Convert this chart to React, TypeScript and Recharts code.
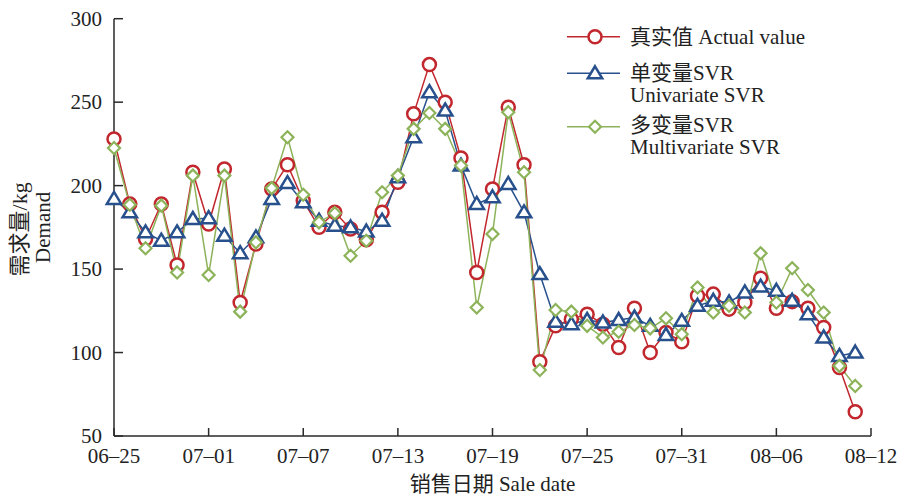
import React from "react";
import { LineChart, Line, XAxis, YAxis, Legend } from "recharts";

// sale dates, 06-25 .. 08-12 (the last one only carries the axis tick)
const dates = [
  "06–25", "06–26", "06–27", "06–28", "06–29", "06–30",
  "07–01", "07–02", "07–03", "07–04", "07–05", "07–06", "07–07", "07–08",
  "07–09", "07–10", "07–11", "07–12", "07–13", "07–14", "07–15", "07–16",
  "07–17", "07–18", "07–19", "07–20", "07–21", "07–22", "07–23", "07–24",
  "07–25", "07–26", "07–27", "07–28", "07–29", "07–30", "07–31",
  "08–01", "08–02", "08–03", "08–04", "08–05", "08–06", "08–07", "08–08",
  "08–09", "08–10", "08–11", "08–12",
];

const actual = [
  228, 189, 168, 189, 152.5, 208, 177, 210, 130, 165, 198, 212.5, 191, 175,
  184, 174, 167.5, 184, 202, 243, 272.5, 250, 216.5, 148, 198, 247, 212.5,
  94.5, 116, 120, 123, 117, 103, 126.5, 100, 112, 106.5, 134, 135, 126, 130,
  144.5, 126.5, 130.5, 126.5, 115, 91, 64.5,
];

const univariate = [
  192, 184, 172, 167, 172, 180, 180.5, 170, 159.5, 169, 192, 201.5, 190, 179,
  176, 175, 172.5, 179, 205, 229, 256, 245, 212, 189, 193, 201, 184, 147,
  118.5, 117, 119.5, 118, 119.5, 121, 116, 110.5, 119, 128, 131, 130, 136,
  139.5, 137, 131, 123, 109, 98, 100,
];

const multivariate = [
  222.5, 188.5, 162.5, 188, 148, 206, 146.5, 206, 124.5, 166, 198.5, 229,
  194.5, 178, 183.5, 158, 167, 196, 206, 234, 243.5, 234, 212, 127, 171, 244,
  208, 89.5, 125.5, 124.5, 116, 109, 112.5, 116.5, 114.5, 120.5, 111, 139,
  124, 128, 124, 159.5, 130, 150.5, 137.5, 124, 92, 80,
];

const yTicks = [50, 100, 150, 200, 250, 300];
const seriesNames = [
  ["真实值 Actual value"],
  ["单变量SVR", "Univariate SVR"],
  ["多变量SVR", "Multivariate SVR"],
];

const RED = "#c1272d";
const BLUE = "#27508c";
const GREEN = "#8db35a";
const AXIS = "#2a2a2a";
const FONT = "'Liberation Serif', 'Noto Sans CJK SC', serif";

const rows = dates.map((date, i) => ({
  date,
  actual: actual[i] ?? null,
  uni: univariate[i] ?? null,
  multi: multivariate[i] ?? null,
}));

const circleShape = (cx: number, cy: number, key?: string) => (
  <circle key={key} cx={cx} cy={cy} r={6.5} fill="#fff" stroke={RED} strokeWidth={2.5} />
);
const triangleShape = (cx: number, cy: number, key?: string) => (
  <path
    key={key}
    d={`M${cx},${cy - 7} L${cx + 7.2},${cy + 5} L${cx - 7.2},${cy + 5} Z`}
    fill="#fff"
    stroke={BLUE}
    strokeWidth={2.5}
  />
);
const diamondShape = (cx: number, cy: number, key?: string) => (
  <path
    key={key}
    d={`M${cx},${cy - 6} L${cx + 6},${cy} L${cx},${cy + 6} L${cx - 6},${cy} Z`}
    fill="#fff"
    stroke={GREEN}
    strokeWidth={2.2}
  />
);

const makeDot = (shape: typeof circleShape, tag: string) => (p: any) => {
  if (p.cx == null || p.cy == null || p.value == null) return <g key={`${tag}-${p.index}`} />;
  return shape(p.cx, p.cy, `${tag}-${p.index}`);
};

const XTick = (p: any) => (
  <g>
    <line x1={p.x} y1={p.y} x2={p.x} y2={p.y - 8} stroke={AXIS} strokeWidth={1.5} />
    <text x={p.x} y={p.y + 27} textAnchor="middle" fontSize={21} fontFamily={FONT} fill="#222">
      {p.payload.value}
    </text>
  </g>
);

const YTick = (p: any) => (
  <g>
    <line x1={p.x} y1={p.y} x2={p.x + 9} y2={p.y} stroke={AXIS} strokeWidth={1.5} />
    <text x={p.x - 12} y={p.y + 7.3} textAnchor="end" fontSize={21} fontFamily={FONT} fill="#222">
      {p.payload.value}
    </text>
  </g>
);

const XTitle = (p: any) => {
  const vb = p.viewBox || { x: 114, y: 436, width: 757, height: 62 };
  return (
    <text x={vb.x + vb.width / 2} y={vb.y + 55} textAnchor="middle" fontSize={21} fontFamily={FONT} fill="#222">
      销售日期 Sale date
    </text>
  );
};

const YTitle = (p: any) => {
  const vb = p.viewBox || { x: 0, y: 18.7, width: 114, height: 417.3 };
  const cy = vb.y + vb.height / 2;
  return (
    <g>
      <text
        x={20}
        y={cy + 2}
        transform={`rotate(-90 20 ${cy + 2})`}
        textAnchor="middle"
        dominantBaseline="central"
        fontSize={22}
        fontFamily={FONT}
        fill="#222"
      >
        需求量/kg
      </text>
      <text
        x={43}
        y={cy}
        transform={`rotate(-90 43 ${cy})`}
        textAnchor="middle"
        dominantBaseline="central"
        fontSize={21}
        fontFamily={FONT}
        fill="#222"
      >
        Demand
      </text>
    </g>
  );
};

const LegendBox = () => {
  const colors = [RED, BLUE, GREEN];
  const shapes = [circleShape, triangleShape, diamondShape];
  const markerY = [12.7, 49.3, 102.7];
  const textY = [[19.7], [56.3, 78], [108, 129.7]];
  return (
    <svg width={270} height={150} style={{ display: "block", overflow: "visible" }}>
      {seriesNames.map((lines, i) => (
        <g key={i}>
          <line x1={1} y1={markerY[i]} x2={54} y2={markerY[i]} stroke={colors[i]} strokeWidth={1.5} />
          {shapes[i](29, markerY[i])}
          {lines.map((t, j) => (
            <text key={j} x={64} y={textY[i][j]} fontSize={21} fontFamily={FONT} fill="#222">
              {t}
            </text>
          ))}
        </g>
      ))}
    </svg>
  );
};

export default function App() {
  return (
    <div style={{ position: "absolute", left: 0, top: 0 }}>
      <LineChart
        width={897}
        height={498}
        data={rows}
        margin={{ top: 18.7, right: 26, left: 0, bottom: 0 }}
      >
        <XAxis
          dataKey="date"
          interval={5}
          tickLine={false}
          tickSize={0}
          tickMargin={0}
          height={62}
          axisLine={{ stroke: AXIS, strokeWidth: 1.5 }}
          tick={XTick}
          label={XTitle}
        />
        <YAxis
          type="number"
          domain={[50, 300]}
          ticks={yTicks}
          width={114}
          tickLine={false}
          tickSize={0}
          tickMargin={0}
          axisLine={{ stroke: AXIS, strokeWidth: 1.5 }}
          tick={YTick}
          label={YTitle}
        />
        <Legend
          layout="vertical"
          align="center"
          verticalAlign="middle"
          wrapperStyle={{ left: 566, top: 24, width: 270, height: 150 }}
          content={LegendBox}
        />
        <Line
          dataKey="actual"
          stroke={RED}
          strokeWidth={1.5}
          dot={makeDot(circleShape, "a")}
          activeDot={false}
          isAnimationActive={false}
        />
        <Line
          dataKey="uni"
          stroke={BLUE}
          strokeWidth={1.5}
          dot={makeDot(triangleShape, "u")}
          activeDot={false}
          isAnimationActive={false}
        />
        <Line
          dataKey="multi"
          stroke={GREEN}
          strokeWidth={1.5}
          dot={makeDot(diamondShape, "m")}
          activeDot={false}
          isAnimationActive={false}
        />
      </LineChart>
    </div>
  );
}
